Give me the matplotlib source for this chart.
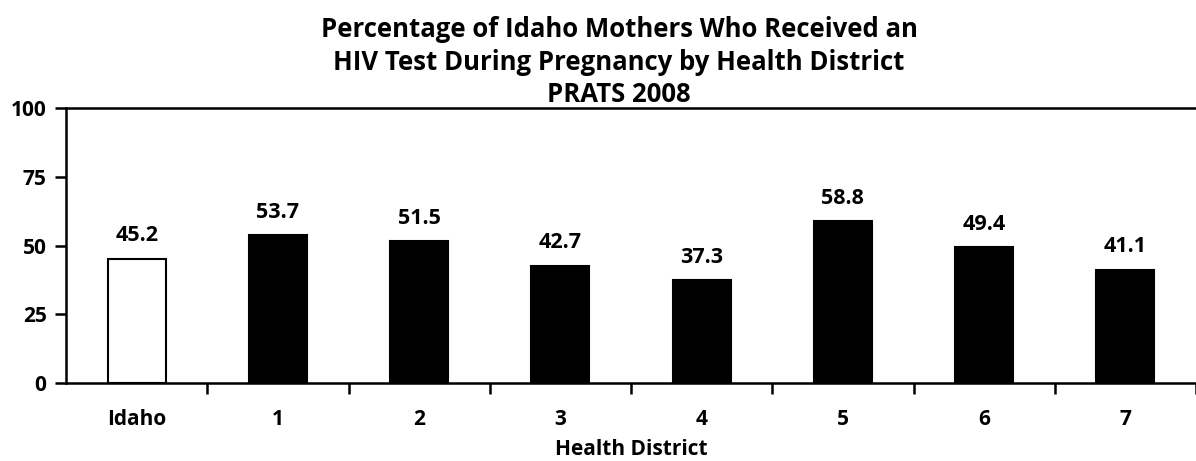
import matplotlib
matplotlib.use("Agg")
import matplotlib.pyplot as plt
import numpy as np

plt.rcParams['font.family'] = ['Open Sans', 'DejaVu Sans']

categories = ["Idaho", "1", "2", "3", "4", "5", "6", "7"]
values = [45.2, 53.7, 51.5, 42.7, 37.3, 58.8, 49.4, 41.1]
title_lines = ["Percentage of Idaho Mothers Who Received an",
               "HIV Test During Pregnancy by Health District",
               "PRATS 2008"]

W, H = 1196, 461
fig = plt.figure(figsize=(W / 100, H / 100), dpi=100)
ax = fig.add_axes([66 / W, 1 - 383 / H, (1196 - 66) / W, (383 - 108) / H])

x = np.arange(len(categories))
colors = ["white"] + ["black"] * (len(categories) - 1)
ax.bar(x, values, width=0.41, color=colors, edgecolor="black", linewidth=1.5)

for xi, v in zip(x, values):
    ax.annotate(f"{v:.1f}", (xi, v), xytext=(0, 9), textcoords="offset points",
                ha="center", va="bottom", fontsize=15.5, fontweight="bold")

ax.set_xlim(-0.5, len(categories) - 0.5)
ax.set_ylim(0, 100)
ax.set_yticks([0, 25, 50, 75, 100])
ax.set_xticks(x)
ax.set_xticklabels(categories)
ax.set_xticks(np.arange(len(categories)) + 0.5, minor=True)
ax.tick_params(axis="x", which="major", length=0, pad=19, labelsize=15)
ax.tick_params(axis="x", which="minor", length=8, width=1.8, direction="out")
ax.tick_params(axis="y", length=8, width=1.8, direction="out", labelsize=15, pad=6)
for lbl in ax.get_xticklabels() + ax.get_yticklabels():
    lbl.set_fontweight("bold")

ax.spines["right"].set_visible(False)
for s in ["left", "bottom", "top"]:
    ax.spines[s].set_linewidth(1.8)

ax.set_xlabel("Health District", fontsize=15, fontweight="bold", labelpad=6)

for i, line in enumerate(title_lines):
    fig.text(619 / W, 1 - (37 + 32.5 * i) / H, line, ha="center", va="baseline",
             fontsize=18.5, fontweight="bold")

fig.savefig("out.png", dpi=100)
